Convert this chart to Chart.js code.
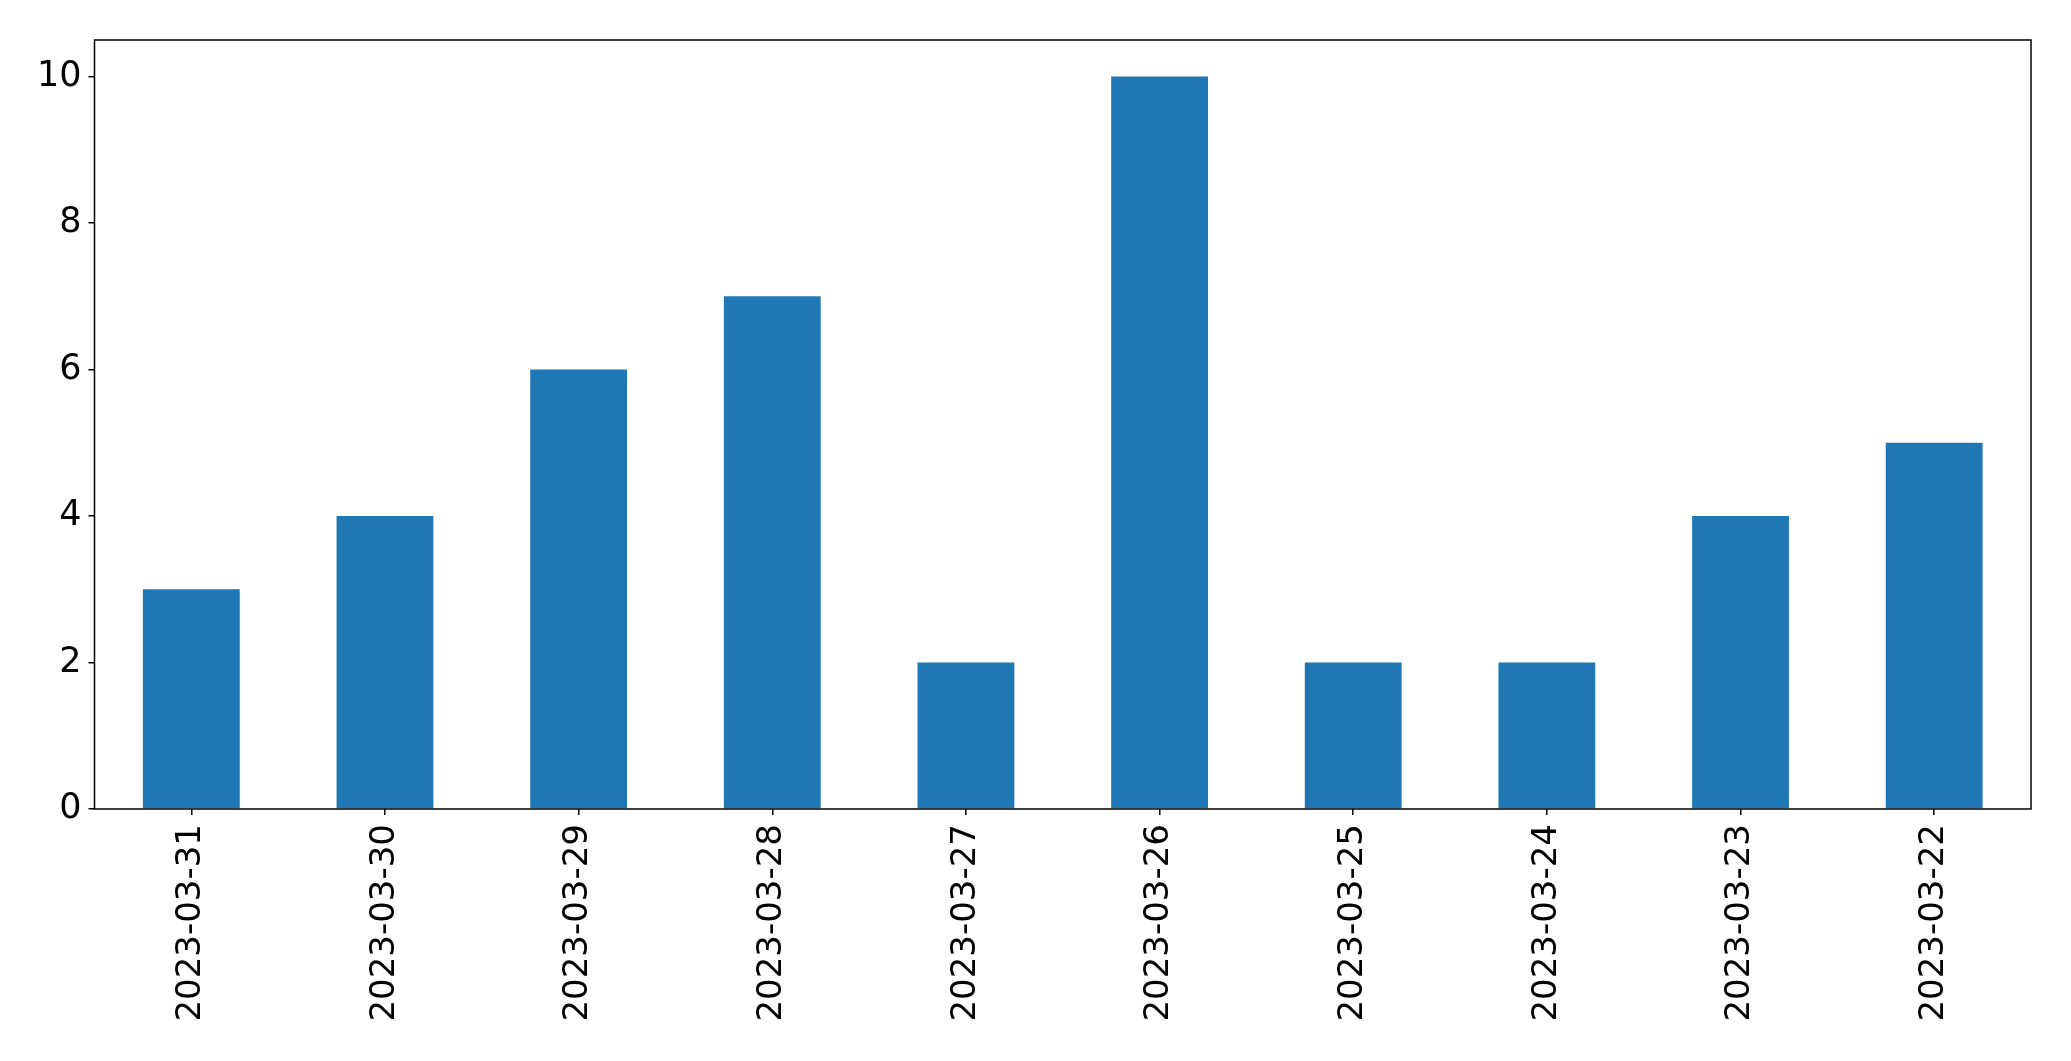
<!DOCTYPE html>
<html>
<head>
<meta charset="utf-8">
<script src="https://cdn.jsdelivr.net/npm/chart.js@4/dist/chart.umd.min.js"></script>
<style>
  body { margin: 0; background: #fff; }
  canvas { display: block; }
</style>
</head>
<body>
<canvas id="barChart" width="2071" height="1061"></canvas>
<script>
const dates = ["2023-03-31", "2023-03-30", "2023-03-29", "2023-03-28", "2023-03-27",
               "2023-03-26", "2023-03-25", "2023-03-24", "2023-03-23", "2023-03-22"];
const counts = [3, 4, 6, 7, 2, 10, 2, 2, 4, 5];
const yTicks = [0, 2, 4, 6, 8, 10];

// black frame around the plot area, like matplotlib spines
const frame = {
  id: "frame",
  afterDatasetsDraw(chart) {
    const a = chart.chartArea;
    const ctx = chart.ctx;
    ctx.save();
    ctx.strokeStyle = "#000";
    ctx.lineWidth = 1.5;
    ctx.strokeRect(a.left, a.top, a.right - a.left, a.bottom - a.top);
    ctx.restore();
  },
};

const barChart = document.querySelector("#barChart");
const graph = new Chart(barChart, {
  type: "bar",
  data: {
    labels: dates,
    datasets: [
      {
        data: counts,
        backgroundColor: "#1f77b4",
        categoryPercentage: 1,
        barPercentage: 0.5,
      },
    ],
  },
  options: {
    responsive: false,
    animation: false,
    layout: { padding: { top: 40, right: 40, left: 0, bottom: 0 } },
    plugins: {
      legend: { display: false },
      tooltip: { enabled: false },
    },
    scales: {
      x: {
        offset: true,
        grid: { display: true, offset: false, drawOnChartArea: false, drawTicks: true, tickLength: 6, color: "#000", lineWidth: 1.5 },
        border: { display: false },
        ticks: {
          color: "#000",
          font: { family: "DejaVu Sans", size: 34 },
          minRotation: 90,
          maxRotation: 90,
          padding: 9,
          autoSkip: false,
        },
        afterFit(scale) {
          scale.height = 252;
        },
      },
      y: {
        min: 0,
        max: 10.5,
        grid: { display: true, drawOnChartArea: false, drawTicks: true, tickLength: 6, color: "#000", lineWidth: 1.5 },
        border: { display: false },
        afterBuildTicks(scale) {
          scale.ticks = yTicks.map((v) => ({ value: v }));
        },
        ticks: {
          color: "#000",
          font: { family: "DejaVu Sans", size: 35 },
          padding: 7,
        },
        afterFit(scale) {
          scale.width = 94.5;
        },
      },
    },
  },
  plugins: [frame],
});
</script>
</body>
</html>
